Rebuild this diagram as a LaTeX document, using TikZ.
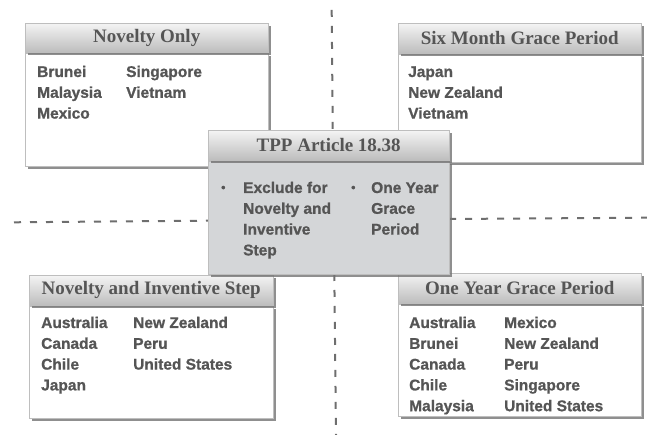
\documentclass[tikz,border=0pt]{standalone}
\usepackage{fontspec}
\setmainfont{Liberation Serif}
\newfontfamily\bodyfont[BoldFeatures={FakeBold=0.9}]{Liberation Sans}
\usetikzlibrary{shadows}
\definecolor{txt}{HTML}{555555}
\definecolor{sepcol}{HTML}{6E6E6E}
\definecolor{edge}{HTML}{BEBEBE}
\definecolor{htop}{HTML}{F4F4F4}
\definecolor{hbot}{HTML}{BDBDBD}
\definecolor{cfill}{HTML}{D4D6D8}
\tikzset{
  sep/.style={draw=sepcol, line width=2pt, dash pattern=on 7pt off 9pt},
  shad/.style={drop shadow={shadow xshift=2.5pt, shadow yshift=-2.5pt, fill=black!55, opacity=0.8}},
  hdr/.style={shad, draw=edge, top color=htop, bottom color=hbot, anchor=north west, inner sep=0pt,
    text=txt, font=\fontsize{19}{22}\selectfont\bfseries},
  bodyb/.style={shad, draw=edge, fill=white, anchor=north west, inner sep=0pt},
  cbody/.style={bodyb, fill=cfill},
  list/.style={anchor=base west, inner sep=0pt, text=txt, font=\bodyfont\bfseries\fontsize{15.5}{20.8}\selectfont},
}
\newcommand\blt{\raisebox{1.5pt}{\fontsize{12}{12}\selectfont\textbullet}}
\begin{document}
\begin{tikzpicture}[x=1pt,y=1pt]
\useasboundingbox (0,0) rectangle (647,435);
% dashed separators
\coordinate (vt1) at (331.7,425);
\coordinate (vt2) at (332.7,305);
\coordinate (hl1) at (14,212.7);
\coordinate (hl2) at (208,214.3);
\coordinate (hr1) at (449,216);
\coordinate (hr2) at (647,217.3);
\coordinate (vb1) at (334.3,161);
\coordinate (vb2) at (336,0);
\draw[sep] (vt1) -- (vt2);
\draw[sep] (hl1) -- (hl2);
\draw[sep] (hr1) -- (hr2);
\draw[sep] (vb1) -- (vb2);

% Novelty Only
\node[bodyb, minimum width=243pt, minimum height=113pt] (noB) at (25,382) {};
\node[hdr, minimum width=243pt, minimum height=29pt] (noH) at (25,412) {Novelty Only};
\node[list] (noL) at (37,358) {\begin{tabular}[t]{@{}p{89pt}@{}l@{}}
Brunei & Singapore\\ Malaysia & Vietnam\\ Mexico & \end{tabular}};

% Six Month Grace Period
\node[bodyb, minimum width=243pt, minimum height=108pt] (smB) at (398,381) {};
\node[hdr, minimum width=243pt, minimum height=30pt] (smH) at (398,412) {Six Month Grace Period};
\node[list] (smL) at (408,358) {\begin{tabular}[t]{@{}l@{}}
Japan\\ New Zealand\\ Vietnam\end{tabular}};

% Novelty and Inventive Step
\node[bodyb, minimum width=244pt, minimum height=112pt] (nisB) at (29,129) {};
\node[hdr, minimum width=244pt, minimum height=30pt] (nisH) at (29,160) {Novelty and Inventive Step};
\node[list] (nisL) at (41,107) {\begin{tabular}[t]{@{}p{92pt}@{}l@{}}
Australia & New Zealand\\ Canada & Peru\\ Chile & United States\\ Japan & \end{tabular}};

% One Year Grace Period
\node[bodyb, minimum width=243pt, minimum height=112pt] (oyB) at (398,131) {};
\node[hdr, minimum width=243pt, minimum height=30pt] (oyH) at (398,162) {One Year Grace Period};
\node[list] (oyL) at (409,107) {\begin{tabular}[t]{@{}p{95pt}@{}l@{}}
Australia & Mexico\\ Brunei & New Zealand\\ Canada & Peru\\ Chile & Singapore\\ Malaysia & United States\end{tabular}};

% TPP Article 18.38
\node[cbody, minimum width=241pt, minimum height=113pt] (tpB) at (208,274) {};
\node[hdr, minimum width=241pt, minimum height=30pt] (tpH) at (208,305) {TPP Article 18.38};
\node[list] (tpL) at (221,242) {\begin{tabular}[t]{@{}p{22pt}@{}p{108pt}@{}p{20pt}@{}l@{}}
\blt & Exclude for & \blt & One Year\\
 & Novelty and & & Grace\\
 & Inventive & & Period\\
 & Step & & \end{tabular}};
\end{tikzpicture}
\end{document}
